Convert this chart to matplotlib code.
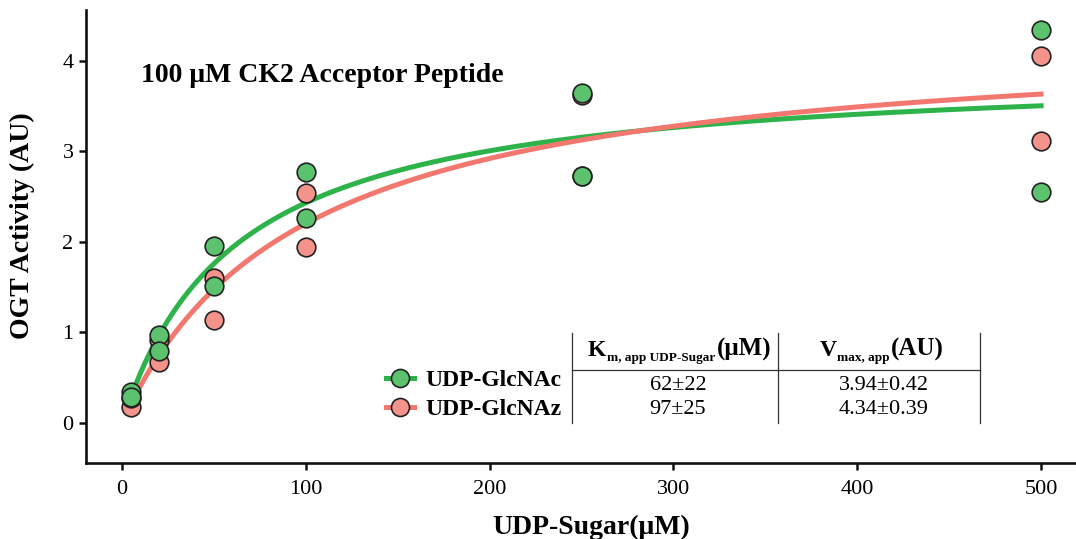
import numpy as np
import matplotlib
matplotlib.use('Agg')
import matplotlib.pyplot as plt
from matplotlib.lines import Line2D

plt.rcParams['font.family'] = ['Liberation Serif', 'DejaVu Serif']

# --- data ---
conc = [5, 20, 50, 100, 250, 500]
glcnac_1 = [0.34, 0.97, 1.95, 2.77, 3.65, 4.34]
glcnac_2 = [0.28, 0.79, 1.51, 2.26, 2.73, 2.55]
glcnaz_1 = [0.17, 0.92, 1.60, 2.54, 3.62, 4.06]
glcnaz_2 = [0.27, 0.67, 1.14, 1.94, 2.73, 3.12]

# fit parameters as shown in the table
km = {'UDP-GlcNAc': 62, 'UDP-GlcNAz': 97}
vmax = {'UDP-GlcNAc': 3.94, 'UDP-GlcNAz': 4.34}
km_err = {'UDP-GlcNAc': 22, 'UDP-GlcNAz': 25}
vmax_err = {'UDP-GlcNAc': 0.42, 'UDP-GlcNAz': 0.39}

GREEN_LINE = '#2db34a'
GREEN_PT = '#5cc26e'
RED_LINE = '#f2776f'
RED_PT = '#f3938c'
EDGE = '#222222'

W, H = 1076, 539
fig = plt.figure(figsize=(W / 100, H / 100), dpi=100)
ax = fig.add_axes([86 / W, 1 - 463 / H, (W - 86) / W, (463 - 10) / H])


def fx(px):
    return px / W


def fy(py):
    return 1 - py / H


def mm(x, v, k):
    return v * x / (k + x)


xs = np.linspace(5, 500, 400)
ax.plot(xs, mm(xs, vmax['UDP-GlcNAc'], km['UDP-GlcNAc']), color=GREEN_LINE, lw=3.6, zorder=2)
ax.plot(xs, mm(xs, vmax['UDP-GlcNAz'], km['UDP-GlcNAz']), color=RED_LINE, lw=3.6, zorder=2)

pt_kw = dict(s=180, edgecolors=EDGE, linewidths=1.2, zorder=3)
ax.scatter(conc, glcnaz_1, color=RED_PT, **pt_kw)
ax.scatter(conc, glcnaz_2, color=RED_PT, **pt_kw)
ax.scatter(conc, glcnac_1, color=GREEN_PT, **pt_kw)
ax.scatter(conc, glcnac_2, color=GREEN_PT, **pt_kw)

ax.set_xlim(-19.6, 519)
ax.set_ylim(-0.446, 4.565)
ax.set_xticks([0, 100, 200, 300, 400, 500])
ax.set_yticks([0, 1, 2, 3, 4])
ax.tick_params(labelsize=16, width=1.8, length=5, color='#111111')
ax.tick_params(axis='x', pad=7)
ax.tick_params(axis='y', pad=4)
for s in ['top', 'right']:
    ax.spines[s].set_visible(False)
for s in ['left', 'bottom']:
    ax.spines[s].set_linewidth(1.9)
    ax.spines[s].set_color('#111111')

ax.set_xlabel('UDP-Sugar(μM)', fontsize=20, fontweight='bold')
ax.xaxis.set_label_coords((591 - 86) / (W - 86), -0.115)
ax.set_ylabel('OGT Activity (AU)', fontsize=20, fontweight='bold')
ax.yaxis.set_label_coords(-0.052, 0.525)

fig.text(fx(141), fy(75), '100 μM CK2 Acceptor Peptide', fontsize=20,
         fontweight='bold', va='center', ha='left')

# legend
handles = [
    Line2D([], [], color=GREEN_LINE, lw=3.6, marker='o', markersize=13,
           markerfacecolor=GREEN_PT, markeredgecolor=EDGE, markeredgewidth=1.2),
    Line2D([], [], color=RED_LINE, lw=3.6, marker='o', markersize=13,
           markerfacecolor=RED_PT, markeredgecolor=EDGE, markeredgewidth=1.2),
]
ax.legend(handles, ['UDP-GlcNAc', 'UDP-GlcNAz'], loc='center left',
          bbox_to_anchor=(fx(386), fy(395)), bbox_transform=fig.transFigure,
          frameon=False, borderpad=0, borderaxespad=0, handlelength=1.2,
          handletextpad=0.45, labelspacing=0.3,
          prop={'size': 17, 'weight': 'bold'})

# table lines
for px in [572, 778, 980]:
    fig.add_artist(Line2D([fx(px), fx(px)], [fy(333), fy(423)], color='#333333', lw=0.9))
fig.add_artist(Line2D([fx(572), fx(980)], [fy(370), fy(370)], color='#333333', lw=0.9))

fig.canvas.draw()
renderer = fig.canvas.get_renderer()


def header(pieces, cx, py):
    # pieces: (text, size, dy) laid out left to right, centred on cx
    txts = []
    x = 0
    for text, size, dy in pieces:
        t = fig.text(0, fy(py + dy), text, fontsize=size, fontweight='bold',
                     ha='left', va='baseline')
        w = t.get_window_extent(renderer).width
        txts.append((t, x))
        x += w + 1
    start = cx - x / 2
    for t, off in txts:
        t.set_x(fx(start + off))


header([('K', 17, 0), ('m, app UDP-Sugar', 9.5, 5), ('(μM)', 18, 0)], 680, 356)
header([('V', 17, 0), ('max, app', 9.5, 5), ('(AU)', 18, 0)], 882, 356)

rows_y = [385, 410]
for name, py in zip(['UDP-GlcNAc', 'UDP-GlcNAz'], rows_y):
    fig.text(fx(678), fy(py), f'{km[name]}±{km_err[name]}', fontsize=16,
             ha='center', va='center')
    fig.text(fx(884), fy(py), f'{vmax[name]:.2f}±{vmax_err[name]:.2f}', fontsize=16,
             ha='center', va='center')

fig.savefig('out.png', dpi=100)
